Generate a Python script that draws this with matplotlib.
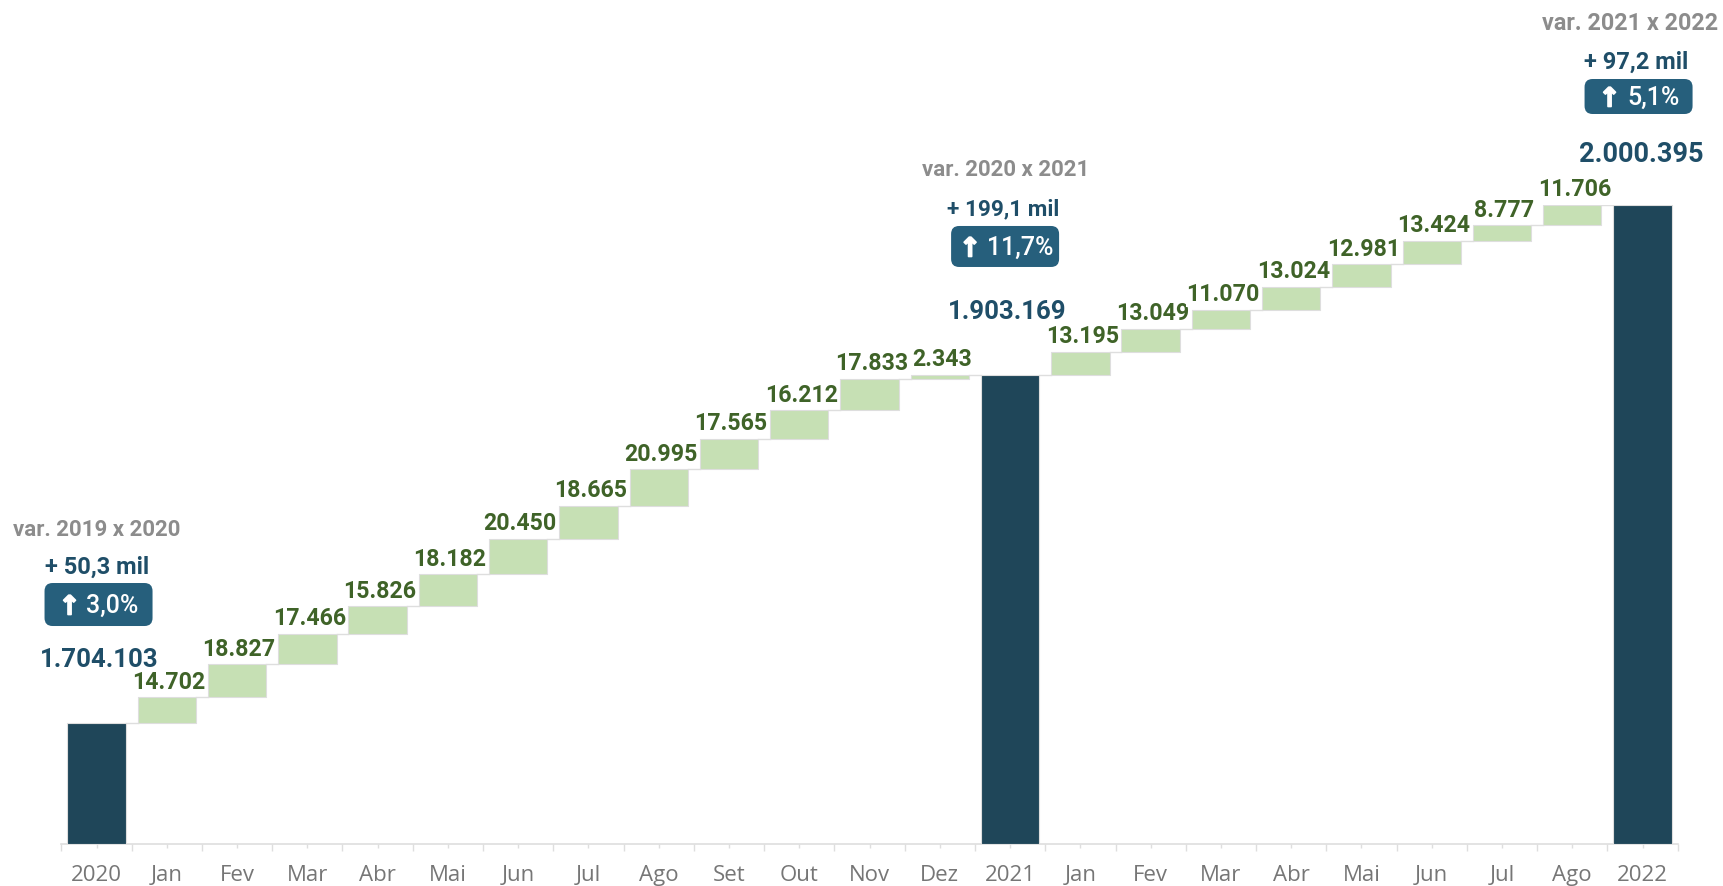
import matplotlib
matplotlib.use('Agg')
import matplotlib.pyplot as plt
import matplotlib.patheffects as pe
import numpy as np
from matplotlib.patches import FancyBboxPatch
from matplotlib.transforms import Affine2D

labels = ['2020', 'Jan', 'Fev', 'Mar', 'Abr', 'Mai', 'Jun', 'Jul', 'Ago', 'Set', 'Out', 'Nov', 'Dez',
          '2021', 'Jan', 'Fev', 'Mar', 'Abr', 'Mai', 'Jun', 'Jul', 'Ago', '2022']
# 0 where the column is a yearly total
monthly = [0, 14702, 18827, 17466, 15826, 18182, 20450, 18665, 20995, 17565, 16212, 17833, 2343,
           0, 13195, 13049, 11070, 13024, 12981, 13424, 8777, 11706, 0]
total_idx = [0, 13, 22]
totals = [1704103, 1903169, 2000395]
total_txt = ['1.704.103', '1.903.169', '2.000.395']
var_txt = ['var. 2019 x 2020', 'var. 2020 x 2021', 'var. 2021 x 2022']
diff_txt = ['+ 50,3 mil', '+ 199,1 mil', '+ 97,2 mil']
pct_txt = ['3,0%', '11,7%', '5,1%']

# pixel offsets from the top/centre of each total bar (x, baseline above bar)
total_off = [(3, 56), (-3, 56), (-1, 43)]
var_off = [(0, 187), (-4, 199), (-13, 175)]
diff_off = [(1, 149), (-7, 160), (-6, 136)]
badge_off = [(2, 118.5, 43), (-5, 128.5, 41), (-4, 108.5, 35)]
arrow_dx = [-29, -35, -29]
pct_dx = [14, 15, 15]
total_size = [18.5, 18.5, 19.5]
var_size = [16, 16, 16.8]
diff_size = [17, 16.2, 17]

navy = '#1f4e68'
bar_dark = '#1f4659'
bar_green = '#c6e0b4'
txt_green = '#3f6328'
badge_col = '#265f7c'
edge = '#dedede'

W, H = 1723, 886
fig = plt.figure(figsize=(W / 100, H / 100), dpi=100)
ax = fig.add_axes([61.4 / W, (H - 844) / H, (1677.7 - 61.4) / W, (844 - 205) / H])
ax.set_xlim(-0.5, 22.5)
ax.set_ylim(1634900, 2000395)

x = np.arange(len(labels))
width = 0.83

ax.bar(total_idx, np.array(totals) - 1634900, width, bottom=1634900, color=bar_dark, edgecolor=edge, linewidth=0.8, zorder=3)

level = totals[0]
for i, v in enumerate(monthly):
    if i in total_idx:
        level = totals[total_idx.index(i)]
        if i < 22:
            ax.plot([i + width / 2, i + 1 - width / 2], [level, level], color=edge, lw=1, zorder=1)
        continue
    ax.bar(i, v, width, bottom=level, color=bar_green, edgecolor=edge, linewidth=0.8, zorder=3)
    level += v
    ax.plot([i + width / 2, i + 1 - width / 2], [level, level], color=edge, lw=1, zorder=1)
    ax.annotate(f'{v:,}'.replace(',', '.'), (i, level), xytext=(1.5, 2.6), textcoords='offset points',
                ha='center', va='bottom', fontsize=16.7, fontweight='bold', family='Roboto',
                color=txt_green, zorder=5,
                bbox=dict(facecolor='white', edgecolor='none', pad=0.3))

for k, i in enumerate(total_idx):
    top = totals[k]
    ax.annotate(total_txt[k], (i, top), xytext=(total_off[k][0] * .72, total_off[k][1] * .72),
                textcoords='offset points', ha='center', va='baseline', fontsize=total_size[k],
                fontweight='bold', family='Roboto', color=navy, annotation_clip=False)
    ax.annotate(var_txt[k], (i, top), xytext=(var_off[k][0] * .72, var_off[k][1] * .72),
                textcoords='offset points', ha='center', va='baseline', fontsize=var_size[k],
                fontweight='bold', family='Roboto', color='#8c8c8c', annotation_clip=False)
    ax.annotate(diff_txt[k], (i, top), xytext=(diff_off[k][0] * .72, diff_off[k][1] * .72),
                textcoords='offset points', ha='center', va='baseline', fontsize=diff_size[k],
                fontweight='bold', family='Roboto', color=navy, annotation_clip=False)
    # badge, same width on all three
    dx, dy, bh = badge_off[k]
    px, py = ax.transData.transform((i, top))
    tr = Affine2D().translate(px + dx, py + dy)
    ax.add_patch(FancyBboxPatch((-48, -bh / 2 + 6), 96, bh - 12, boxstyle='round,pad=6,rounding_size=8',
                                facecolor=badge_col, edgecolor='none', transform=tr, clip_on=False, zorder=4))
    ax.annotate('\u2191', (i, top), xytext=((dx + arrow_dx[k]) * .72, (dy - 3) * .72), textcoords='offset points',
                ha='center', va='center', fontsize=19, fontweight='bold',
                family='DejaVu Sans', color='white', annotation_clip=False, zorder=5,
                path_effects=[pe.withStroke(linewidth=1.2, foreground='white')])
    ax.annotate(pct_txt[k], (i, top), xytext=((dx + pct_dx[k]) * .72, (dy - 1) * .72), textcoords='offset points',
                ha='center', va='center', fontsize=18, fontweight='medium',
                family='Roboto', color='white', annotation_clip=False, zorder=5)

for s in ['top', 'left', 'right']:
    ax.spines[s].set_visible(False)
ax.spines['bottom'].set_color(edge)
ax.spines['bottom'].set_linewidth(1.2)
ax.set_yticks([])
ax.set_xticks(np.arange(-0.5, 23, 1))
ax.set_xticklabels([])
ax.set_xticks(x, minor=True)
ax.set_xticklabels(labels, minor=True, fontsize=16, color='#767676', family='Open Sans')
ax.tick_params(axis='x', which='major', length=5, color=edge, width=1, direction='out')
ax.tick_params(axis='x', which='minor', length=3, color=edge, width=1, direction='out', pad=12)

fig.savefig('out.png', dpi=100)
